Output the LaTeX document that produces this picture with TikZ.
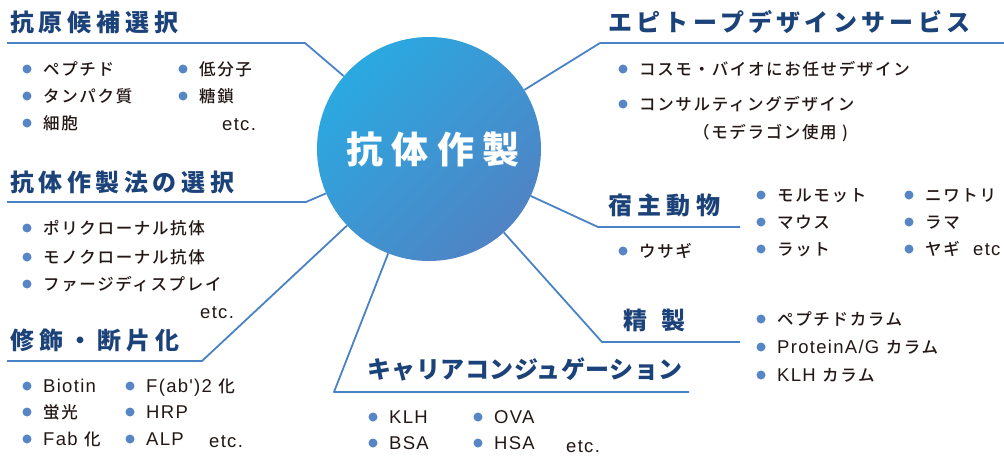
\documentclass[tikz,border=0pt]{standalone}
\usepackage{fontspec}
\setmainfont{Noto Sans CJK JP}
\newfontfamily\jpmed{Noto Sans CJK JP Medium}
\newfontfamily\latfam[LetterSpace=7]{Liberation Sans}
\newcommand\latn[1]{{\latfam\fontsize{18.5}{20}\selectfont #1}}
\definecolor{lineblue}{RGB}{74,131,197}
\definecolor{navy}{RGB}{28,66,122}
\definecolor{ink}{RGB}{35,24,21}
\definecolor{dotblue}{RGB}{86,134,198}
\definecolor{hubA}{RGB}{42,169,225}
\definecolor{hubB}{RGB}{80,131,196}
\newcommand\bul[4]{%
  \node[dot] (#1b) at (#2,#3) {};
  \node[itm] (#1) at (#2+16,#3) {#4};}
\begin{document}
\begin{tikzpicture}[x=1pt,y=-1pt,
  conn/.style={draw=lineblue,line width=1.8pt,line join=round},
  ttl/.style={anchor=west,inner sep=0pt,text=navy,text height=21pt,text depth=3pt},
  itm/.style={anchor=west,inner sep=0pt,text=ink,text height=14.5pt,text depth=2pt,
    font={\jpmed\fontsize{16.5}{20}\selectfont\addfontfeature{LetterSpace=10}}},
  dot/.style={circle,fill=dotblue,inner sep=0pt,minimum size=9pt},
  hub/.style={circle,minimum size=224pt,inner sep=0pt,top color=hubA,bottom color=hubB,shading angle=45,
    text=white,font={\fontsize{37}{40}\selectfont\bfseries\addfontfeature{LetterSpace=22}}}]
\useasboundingbox (0,0) rectangle (1004,456);
\fill[white] (0,0) rectangle (1004,456);

% coordinates of the underlines
\coordinate (u1s) at (7,43);   \coordinate (u1e) at (305,43);
\coordinate (u2s) at (1004,43); \coordinate (u2e) at (600,43);
\coordinate (u3s) at (7,202);  \coordinate (u3e) at (306,202);
\coordinate (u4s) at (7,361);  \coordinate (u4e) at (202,361);
\coordinate (u5s) at (689,392); \coordinate (u5e) at (334,392);
\coordinate (u6s) at (740,342); \coordinate (u6e) at (602,342);
\coordinate (u7s) at (740,227); \coordinate (u7e) at (598,227);

\node[hub] (hub) at (429,149) {\hspace*{8pt}抗体作製};

\draw[conn] (u1s) -- (u1e) -- (hub);
\draw[conn] (u2s) -- (u2e) -- (hub);
\draw[conn] (u3s) -- (u3e) -- (hub);
\draw[conn] (u4s) -- (u4e) -- (hub);
\draw[conn] (u5s) -- (u5e) -- (hub);
\draw[conn] (u6s) -- (u6e) -- (hub);
\draw[conn] (u7s) -- (u7e) -- (hub);

% titles
\node[ttl,font={\fontsize{24}{28}\selectfont\bfseries\addfontfeature{LetterSpace=20}}] (t1) at (10,22) {抗原候補選択};
\node[ttl,font={\fontsize{24}{28}\selectfont\bfseries\addfontfeature{LetterSpace=18}}] (t2) at (608,22) {エピトープデザインサービス};
\node[ttl,font={\fontsize{24}{28}\selectfont\bfseries\addfontfeature{LetterSpace=19}}] (t3) at (10,182) {抗体作製法の選択};
\node[ttl,font={\fontsize{24}{28}\selectfont\bfseries\addfontfeature{LetterSpace=21}}] (t4) at (10,340) {修飾・断片化};
\node[ttl,font={\fontsize{24}{28}\selectfont\bfseries\addfontfeature{LetterSpace=2}}] (t5) at (367,369) {キャリアコンジュゲーション};
\node[ttl,font={\fontsize{24}{28}\selectfont\bfseries\addfontfeature{LetterSpace=58}}] (t6) at (623,320) {精製};
\node[ttl,font={\fontsize{24}{28}\selectfont\bfseries\addfontfeature{LetterSpace=22}}] (t7) at (608,205) {宿主動物};

% group 1
\bul{a1}{27}{69}{ペプチド}
\bul{a2}{27}{96}{タンパク質}
\bul{a3}{27}{123}{細胞}
\bul{a4}{183}{69}{低分子}
\bul{a5}{183}{96}{糖鎖}
\node[itm] (a6) at (222,124) {\latn{etc.}};

% group 2
\bul{b1}{623}{69}{コスモ・バイオにお任せデザイン}
\bul{b2}{623}{104}{コンサルティングデザイン}
\node[itm] (b3) at (693,132) {（モデラゴン使用 )};

% group 3
\bul{c1}{27}{228}{ポリクローナル抗体}
\bul{c2}{27}{257}{モノクローナル抗体}
\bul{c3}{27}{284}{ファージディスプレイ}
\node[itm] (c4) at (200,312) {\latn{etc.}};

% group 4
\bul{d1}{27}{386}{\latn{Biotin}}
\bul{d2}{27}{412}{蛍光}
\bul{d3}{27}{439}{\latn{Fab }化}
\bul{d4}{130}{386}{\latn{F(ab')2 }化}
\bul{d5}{130}{412}{\latn{HRP}}
\bul{d6}{130}{439}{\latn{ALP}}
\node[itm] (d7) at (209,441) {\latn{etc.}};

% group 5
\bul{e1}{373}{417}{\latn{KLH}}
\bul{e2}{373}{443}{\latn{BSA}}
\bul{e3}{478}{417}{\latn{OVA}}
\bul{e4}{478}{443}{\latn{HSA}}
\node[itm] (e5) at (566,446) {\latn{etc.}};

% group 6
\bul{f1}{761}{319}{ペプチドカラム}
\bul{f2}{761}{347}{\latn{ProteinA/G }カラム}
\bul{f3}{761}{375}{\latn{KLH }カラム}

% group 7
\bul{g1}{761}{195}{モルモット}
\bul{g2}{761}{222}{マウス}
\bul{g3}{761}{249}{ラット}
\bul{g4}{909}{195}{ニワトリ}
\bul{g5}{909}{222}{ラマ}
\bul{g6}{909}{249}{ヤギ}
\node[itm] (g7) at (973,249) {\latn{etc}};
\bul{g8}{623}{251}{ウサギ}
\end{tikzpicture}
\end{document}
